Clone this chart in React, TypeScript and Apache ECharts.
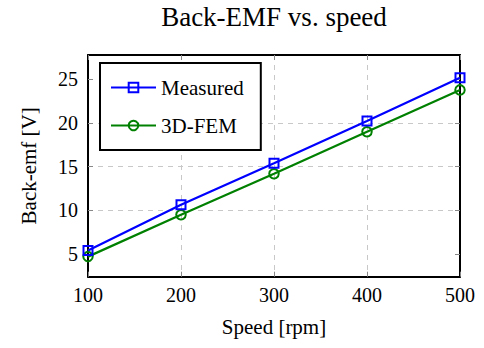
import React, { useEffect, useRef } from "react";
import * as echarts from "echarts";

const speeds = [100, 200, 300, 400, 500];
const measured = [5.4, 10.65, 15.4, 20.25, 25.2];
const fem = [4.7, 9.5, 14.2, 19.0, 23.8];
const yTicks = [5, 10, 15, 20, 25];
const seriesNames = ["Measured", "3D-FEM"];
const titleText = "Back-EMF vs. speed";
const xName = "Speed [rpm]";
const yName = "Back-emf [V]";

const FONT = "Liberation Serif";

export default function App() {
  const ref = useRef<HTMLDivElement>(null);
  useEffect(() => {
    if (!ref.current) return;
    const chart = echarts.init(ref.current, undefined, { renderer: "svg" });
    const tickStyle = { show: true, inside: true, length: 5, lineStyle: { color: "#888", width: 1 } };
    const splitStyle = {
      show: true,
      showMinLine: false,
      showMaxLine: false,
      lineStyle: { color: "#c8c8c8", width: 1, type: [5, 5] as any },
    };
    const axisLineStyle = { show: true, lineStyle: { color: "#000", width: 2 } };
    const txt = { fontFamily: FONT, color: "#000" };
    chart.setOption({
      animation: false,
      backgroundColor: "#fff",
      textStyle: { fontFamily: FONT },
      graphic: [
        {
          type: "text",
          x: 274,
          y: 17,
          style: {
            text: titleText,
            font: `27px ${FONT}`,
            fill: "#000",
            textAlign: "center",
            textVerticalAlign: "middle",
          },
        },
      ],
      grid: { left: 88, right: 24, top: 55, bottom: 71.3, show: false },
      legend: {
        orient: "vertical",
        left: 100,
        top: 63,
        padding: [14, 17, 14, 10],
        itemGap: 17,
        itemWidth: 45,
        itemHeight: 12,
        borderColor: "#000",
        borderWidth: 2,
        backgroundColor: "#fff",
        textStyle: { ...txt, fontSize: 21 },
        data: seriesNames,
      },
      xAxis: [
        {
          type: "value",
          min: 100,
          max: 500,
          interval: 100,
          position: "bottom",
          name: xName,
          nameLocation: "middle",
          nameGap: 40,
          nameTextStyle: { ...txt, fontSize: 21 },
          axisLine: axisLineStyle,
          axisTick: tickStyle,
          axisLabel: { ...txt, fontSize: 20, margin: 8 },
          splitLine: splitStyle,
        },
        {
          type: "value",
          min: 100,
          max: 500,
          interval: 100,
          position: "top",
          axisLine: axisLineStyle,
          axisTick: tickStyle,
          axisLabel: { show: false },
          splitLine: { show: false },
        },
      ],
      yAxis: [
        {
          type: "value",
          min: 2.4,
          max: 27.8,
          position: "left",
          name: yName,
          nameLocation: "middle",
          nameGap: 49,
          nameTextStyle: { ...txt, fontSize: 21 },
          axisLine: axisLineStyle,
          axisTick: { ...tickStyle, customValues: yTicks },
          axisLabel: { ...txt, fontSize: 20, margin: 10, customValues: yTicks },
          splitLine: splitStyle,
        },
        {
          type: "value",
          min: 2.4,
          max: 27.8,
          position: "right",
          axisLine: axisLineStyle,
          axisTick: { ...tickStyle, customValues: yTicks },
          axisLabel: { show: false, customValues: yTicks },
          splitLine: { show: false },
        },
      ],
      series: [
        {
          name: seriesNames[0],
          type: "line",
          data: speeds.map((s, i) => [s, measured[i]]),
          symbol: "rect",
          symbolSize: 9,
          lineStyle: { color: "#0000ff", width: 2.2 },
          itemStyle: { color: "rgba(0,0,0,0)", borderColor: "#0000ff", borderWidth: 2 },
          z: 3,
        },
        {
          name: seriesNames[1],
          type: "line",
          data: speeds.map((s, i) => [s, fem[i]]),
          symbol: "circle",
          symbolSize: 9.5,
          lineStyle: { color: "#008000", width: 2.2 },
          itemStyle: { color: "rgba(0,0,0,0)", borderColor: "#008000", borderWidth: 2 },
          z: 2,
        },
      ],
    });
    return () => chart.dispose();
  }, []);
  return (
    <div
      ref={ref}
      style={{ position: "absolute", left: 0, top: 0, width: 484, height: 348 }}
    />
  );
}
